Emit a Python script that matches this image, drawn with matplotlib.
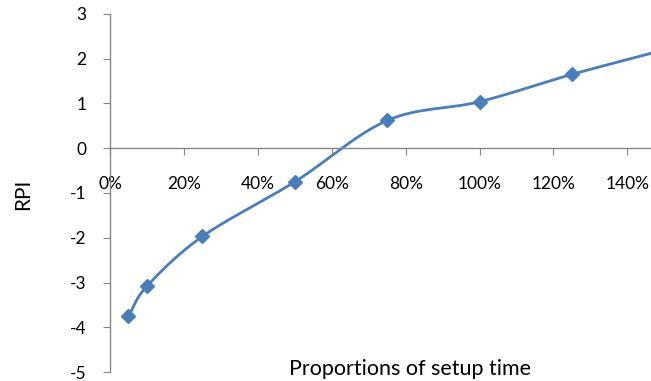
import numpy as np
import matplotlib.pyplot as plt

# data
proportions = [5, 10, 25, 50, 75, 100, 125, 150]
rpi = [-3.75, -3.08, -1.97, -0.75, 0.62, 1.04, 1.65, 2.2]
x_ticks = [0, 20, 40, 60, 80, 100, 120, 140]
x_labels = ["0%", "20%", "40%", "60%", "80%", "100%", "120%", "140%"]
y_ticks = [-5, -4, -3, -2, -1, 0, 1, 2, 3]

LINE = "#4A7EBB"
AXIS = "#868686"


def smooth(xs, ys, n=40):
    # Excel-style smoothed line: catmull-rom segments between the points
    xs = np.asarray(xs, float)
    ys = np.asarray(ys, float)
    px = np.concatenate([[2 * xs[0] - xs[1]], xs, [2 * xs[-1] - xs[-2]]])
    py = np.concatenate([[2 * ys[0] - ys[1]], ys, [2 * ys[-1] - ys[-2]]])
    ox, oy = [], []
    t = np.linspace(0, 1, n)
    for i in range(1, len(px) - 2):
        for p, out in ((px, ox), (py, oy)):
            p0, p1, p2, p3 = p[i - 1], p[i], p[i + 1], p[i + 2]
            c1 = p1 + (p2 - p0) / 6
            c2 = p2 - (p3 - p1) / 6
            out.extend((1 - t) ** 3 * p1 + 3 * (1 - t) ** 2 * t * c1
                       + 3 * (1 - t) * t ** 2 * c2 + t ** 3 * p2)
    return np.array(ox), np.array(oy)


plt.rcParams['font.family'] = ['Lato', 'DejaVu Sans']
plt.rcParams['axes.unicode_minus'] = False

fig = plt.figure(figsize=(6.51, 3.81), dpi=100)
ax = fig.add_axes([0.169, 0.0236, 0.831, 0.9397])

sx, sy = smooth(proportions, rpi)
ax.plot(sx, sy, color=LINE, lw=2, clip_on=True)
ax.plot(proportions, rpi, ls="none", marker="D", ms=7.5, color=LINE)

ax.set_xlim(0, 146.4)
ax.set_ylim(-5, 3)

ax.spines['top'].set_visible(False)
ax.spines['right'].set_visible(False)
ax.spines['bottom'].set_position(('data', 0))
for s in ('left', 'bottom'):
    ax.spines[s].set_color(AXIS)
    ax.spines[s].set_linewidth(1)

ax.set_xticks(x_ticks)
ax.set_xticklabels(x_labels)
ax.set_yticks(y_ticks)
ax.tick_params(axis='x', direction='out', length=5, color=AXIS, pad=15,
               labelsize=12.5)
ax.tick_params(axis='y', direction='out', length=5, color=AXIS, pad=12,
               labelsize=12.5)

fig.text(0.036, 0.491, "RPI", rotation=90, ha='center', va='center',
         fontsize=15)
fig.text(0.63, 0.0157, "Proportions of setup time", ha='center',
         va='baseline', fontsize=15.5)

fig.savefig("out.png", dpi=100)
